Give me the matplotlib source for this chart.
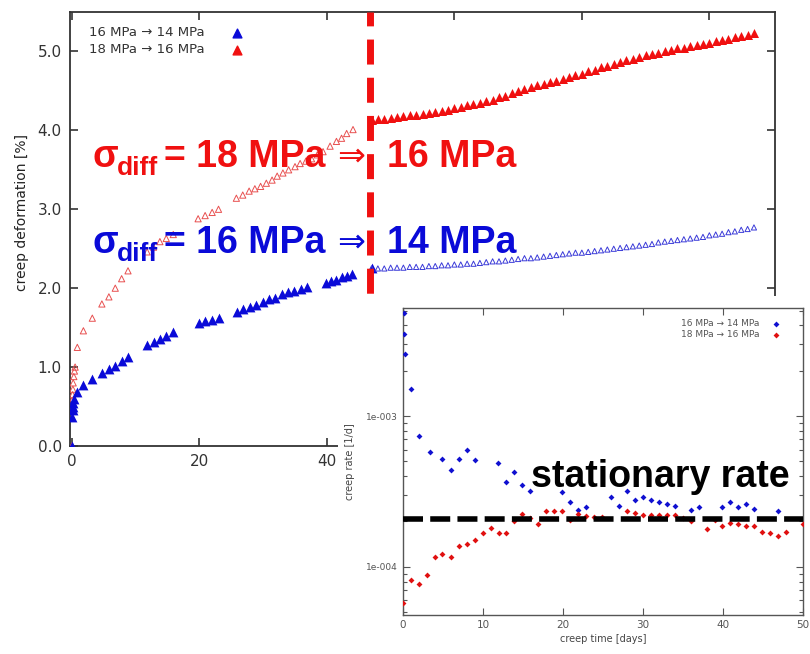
import math
import matplotlib
matplotlib.use("Agg")
import matplotlib.pyplot as plt
from matplotlib.patches import Rectangle
from matplotlib.ticker import FuncFormatter, LogLocator, NullFormatter

# ---- main plot: creep deformation [%] vs time [days] ----
# 16 -> 14 MPa, before load change (filled)
blue1_t = [0, 0.05, 0.1, 0.15, 0.2, 0.3, 0.85, 1.8, 3.2, 4.7, 5.8, 6.8, 7.8, 8.8,
           11.8, 12.8, 13.8, 14.8, 15.9, 19.9, 20.9, 22.0, 23.0,
           25.9, 26.9, 27.9, 28.9, 29.9, 30.9, 31.9, 32.9, 33.9, 34.9, 35.9, 36.9,
           39.9, 40.7, 41.5, 42.3, 43.1, 44.0, 47.0]
blue1_e = [0.0, 0.37, 0.45, 0.50, 0.55, 0.60, 0.69, 0.77, 0.85, 0.93, 0.97, 1.02, 1.08, 1.13,
           1.28, 1.32, 1.35, 1.40, 1.44, 1.56, 1.58, 1.60, 1.62,
           1.70, 1.73, 1.76, 1.79, 1.82, 1.86, 1.88, 1.92, 1.95, 1.97, 1.99, 2.01,
           2.06, 2.09, 2.11, 2.14, 2.15, 2.18, 2.25]

# 18 -> 16 MPa, before load change (open)
red1_t = [0, 0.05, 0.1, 0.15, 0.2, 0.3, 0.4, 0.5, 0.85, 1.8, 3.2, 4.7, 5.8, 6.8, 7.8, 8.8,
          11.8, 12.8, 13.8, 14.8, 15.9, 19.8, 20.9, 22.0, 23.0,
          25.8, 26.8, 27.8, 28.7, 29.6, 30.5, 31.4, 32.2, 33.1, 34.0, 35.0, 35.8, 36.7,
          37.6, 38.5, 39.4, 40.5, 41.5, 42.3, 43.1, 44.1]
red1_e = [0.0, 0.58, 0.65, 0.72, 0.80, 0.88, 0.95, 1.00, 1.25, 1.46, 1.62, 1.80, 1.89, 2.00, 2.12, 2.22,
          2.46, 2.52, 2.59, 2.63, 2.68, 2.88, 2.92, 2.96, 3.00,
          3.14, 3.18, 3.23, 3.26, 3.29, 3.33, 3.37, 3.42, 3.46, 3.50, 3.54, 3.58, 3.61,
          3.64, 3.69, 3.73, 3.80, 3.86, 3.90, 3.96, 4.01]

# after load change (days 47..107)
t2 = [47, 48, 49, 50, 51, 52, 53, 54, 55, 56, 57, 58, 59, 60, 61, 62, 63, 64, 65, 66,
      67, 68, 69, 70, 71, 72, 73, 74, 75, 76, 77, 78, 79, 80, 81, 82, 83, 84, 85, 86,
      87, 88, 89, 90, 91, 92, 93, 94, 95, 96, 97, 98, 99, 100, 101, 102, 103, 104, 105, 106, 107]
red2_e = [4.13, 4.14, 4.15, 4.16, 4.17, 4.18, 4.19, 4.20, 4.21, 4.22, 4.23, 4.25, 4.26, 4.28, 4.30,
          4.32, 4.34, 4.35, 4.37, 4.39, 4.42, 4.44, 4.47, 4.50, 4.52, 4.55, 4.57, 4.59, 4.61, 4.63,
          4.65, 4.68, 4.70, 4.72, 4.75, 4.77, 4.80, 4.82, 4.84, 4.87, 4.89, 4.91, 4.93, 4.95, 4.97,
          4.98, 5.00, 5.02, 5.04, 5.05, 5.07, 5.08, 5.10, 5.11, 5.13, 5.14, 5.16, 5.18, 5.20, 5.21, 5.23]
blue2_e = [2.25, 2.25, 2.25, 2.26, 2.26, 2.26, 2.27, 2.27, 2.27, 2.28, 2.28, 2.29, 2.29, 2.30, 2.30,
           2.31, 2.31, 2.32, 2.33, 2.34, 2.34, 2.35, 2.36, 2.37, 2.38, 2.38, 2.39, 2.40, 2.41, 2.42,
           2.43, 2.44, 2.45, 2.45, 2.46, 2.47, 2.48, 2.49, 2.50, 2.51, 2.52, 2.53, 2.54, 2.55, 2.56,
           2.58, 2.59, 2.60, 2.61, 2.62, 2.63, 2.64, 2.65, 2.67, 2.68, 2.69, 2.71, 2.72, 2.74, 2.75, 2.77]

switch_day = 46.8

# ---- inset: creep rate [1/d] after load change ----
rate_blue_t = [0.1, 0.1, 0.25, 1.0, 2.0, 3.4, 4.9, 6.0, 7.0, 8.0, 9.0, 11.9, 12.9, 13.9, 14.9, 15.9,
               19.9, 20.9, 21.9, 22.9, 26.0, 27.0, 28.0, 29.0, 30.0, 31.0, 32.0, 33.0, 34.0,
               36.0, 37.0, 39.9, 40.9, 41.9, 42.9, 43.9, 46.9]
rate_blue = [4.8e-3, 3.5e-3, 2.57e-3, 1.5e-3, 7.4e-4, 5.8e-4, 5.2e-4, 4.37e-4, 5.18e-4, 6.0e-4,
             5.1e-4, 4.9e-4, 3.66e-4, 4.25e-4, 3.5e-4, 3.2e-4, 3.16e-4, 2.69e-4, 2.39e-4, 2.48e-4,
             2.89e-4, 2.55e-4, 3.18e-4, 2.76e-4, 2.89e-4, 2.79e-4, 2.69e-4, 2.62e-4, 2.54e-4,
             2.39e-4, 2.48e-4, 2.5e-4, 2.69e-4, 2.5e-4, 2.61e-4, 2.43e-4, 2.33e-4]
rate_red_t = [0, 1, 2, 3, 4, 4.9, 6, 7, 8, 9, 10, 11, 12, 12.9, 13.9, 14.9, 15.9, 16.9, 17.9, 18.9,
              19.9, 20.9, 21.9, 22.9, 23.9, 24.9, 28, 29, 30, 31, 32, 33, 34, 35, 36, 38, 39,
              39.9, 40.9, 41.9, 42.9, 43.9, 44.9, 45.9, 46.9, 47.9, 50]
rate_red = [5.8e-5, 8.2e-5, 7.7e-5, 8.9e-5, 1.17e-4, 1.22e-4, 1.17e-4, 1.38e-4, 1.42e-4, 1.5e-4,
            1.68e-4, 1.8e-4, 1.68e-4, 1.68e-4, 2.03e-4, 2.25e-4, 2.1e-4, 1.93e-4, 2.34e-4, 2.34e-4,
            2.35e-4, 2.05e-4, 2.24e-4, 2.16e-4, 2.13e-4, 2.13e-4, 2.34e-4, 2.27e-4, 2.2e-4, 2.2e-4,
            2.22e-4, 2.22e-4, 2.22e-4, 2.1e-4, 2.01e-4, 1.78e-4, 2.05e-4, 1.86e-4, 1.95e-4, 1.92e-4,
            1.86e-4, 1.86e-4, 1.7e-4, 1.68e-4, 1.61e-4, 1.7e-4, 1.92e-4]
stationary_rate = 2.08e-4

label_blue = "16 MPa \u2192 14 MPa"
label_red = "18 MPa \u2192 16 MPa"

BLUE = "#0a0ad8"
RED = "#f01010"
W, H = 810, 654

fig = plt.figure(figsize=(8.1, 6.54), dpi=100)

def fpos(x, y):
    # pixel position -> figure fraction
    return x / W, 1 - y / H

# main axes
ax = fig.add_axes([70 / W, 1 - 446 / H, 705 / W, 434 / H])
ax.set_zorder(0)
ax.scatter(red1_t, red1_e, marker="^", s=20, facecolors="none", edgecolors="#e85050",
           linewidths=0.7, zorder=3)
ax.scatter(blue1_t, blue1_e, marker="^", s=50, color=BLUE, linewidths=0, zorder=3)
ax.scatter(t2, blue2_e, marker="^", s=14, facecolors="none", edgecolors="#3a3ad8",
           linewidths=0.7, zorder=3)
ax.scatter(t2, red2_e, marker="^", s=42, color=RED, linewidths=0, zorder=3)
ax.axvline(switch_day, color=RED, lw=5, dashes=(3.6, 1.9), zorder=4)

# legend handles (gnuplot style: text first, marker after)
ax.scatter([], [], marker="^", s=40, color=BLUE, label=label_blue)
ax.scatter([], [], marker="^", s=40, color=RED, label=label_red)
leg = ax.legend(loc="upper left", bbox_to_anchor=(0.01, 0.995), frameon=False,
                markerfirst=False, fontsize=9.5, handletextpad=0.8, handlelength=3.3,
                labelspacing=0.3, scatterpoints=1)
for txt in leg.get_texts():
    txt.set_color("#333333")

ax.set_xlim(-0.3, 110.3)
ax.set_ylim(0, 5.5)
ax.set_xticks([0, 20, 40, 60, 80, 100])
# labels beyond 40 sit under the inset panel
ax.xaxis.set_major_formatter(FuncFormatter(lambda v, p: f"{v:.0f}" if v <= 40 else ""))
ax.set_yticks([0, 1, 2, 3, 4, 5])
ax.yaxis.set_major_formatter(FuncFormatter(lambda v, p: f"{v:.1f}"))
ax.tick_params(direction="in", length=6, width=1.2, top=True, right=True,
               labelsize=11, colors="#333333", pad=6)
for sp in ax.spines.values():
    sp.set_color("#333333")
    sp.set_linewidth(1.3)
ax.set_ylabel("creep deformation [%]", fontsize=10, color="#222222")
ax.yaxis.set_label_coords(-0.058, 0.537)

# big annotations
BOLD = ["Liberation Sans", "DejaVu Sans"]
for color, base, l, r in [(RED, 167, "= 18 MPa", "16 MPa"), (BLUE, 253, "= 16 MPa", "14 MPa")]:
    fig.text(*fpos(92, base), "\u03c3", fontsize=27, color=color, family=BOLD,
             fontweight="bold", va="baseline", zorder=5)
    fig.text(*fpos(117, base + 8), "diff", fontsize=19, color=color, family=BOLD,
             fontweight="bold", va="baseline", zorder=5)
    fig.text(*fpos(164, base), l, fontsize=27, color=color, family=BOLD,
             fontweight="bold", va="baseline", zorder=5)
    fig.text(*fpos(337, base - 1), "\u21d2", fontsize=24, color=color, family="DejaVu Sans",
             va="baseline", zorder=5)
    fig.text(*fpos(387, base), r, fontsize=27, color=color, family=BOLD,
             fontweight="bold", va="baseline", zorder=5)

# white panel behind the inset
fig.add_artist(Rectangle((338 / W, 0), 1 - 338 / W, 1 - 296 / H, transform=fig.transFigure,
                         facecolor="white", edgecolor="none", zorder=0.5))

# inset axes
axi = fig.add_axes([403 / W, 1 - 615 / H, 400 / W, 307 / H])
axi.set_zorder(1)
axi.scatter(rate_blue_t, rate_blue, marker="D", s=9, color="#1010d0", linewidths=0, zorder=3,
            label=label_blue)
axi.scatter(rate_red_t, rate_red, marker="D", s=9, color="#e01010", linewidths=0, zorder=3,
            label=label_red)
axi.axhline(stationary_rate, color="black", lw=4, dashes=(3.6, 1.3), zorder=4)
axi.set_yscale("log")
axi.set_xlim(0, 50)
axi.set_ylim(4.8e-5, 5.2e-3)
axi.set_xticks([0, 10, 20, 30, 40, 50])
axi.yaxis.set_major_locator(LogLocator(base=10, numticks=10))
axi.yaxis.set_minor_locator(LogLocator(base=10, subs=range(2, 10), numticks=20))
axi.yaxis.set_minor_formatter(NullFormatter())
axi.yaxis.set_major_formatter(FuncFormatter(lambda v, p: f"1e-{-round(math.log10(v)):03d}"))
axi.tick_params(which="both", direction="in", top=True, right=True, colors="#555555",
                labelsize=7.5, width=0.8)
axi.tick_params(which="major", length=5)
axi.tick_params(which="minor", length=3)
axi.tick_params(axis="y", labelsize=6.5)
for sp in axi.spines.values():
    sp.set_color("#555555")
    sp.set_linewidth(1.0)
axi.set_xlabel("creep time [days]", fontsize=7, color="#444444", labelpad=3)
axi.set_ylabel("creep rate [1/d]", fontsize=7, color="#444444", labelpad=8)
lg = axi.legend(loc="upper right", bbox_to_anchor=(0.975, 0.99), frameon=False, markerfirst=False,
                fontsize=6.5, handletextpad=0.8, handlelength=2.0, labelspacing=0.2,
                scatterpoints=1)
for txt in lg.get_texts():
    txt.set_color("#555555")

fig.text(*fpos(531, 487), "stationary rate", fontsize=27, fontweight="bold", family=BOLD,
         color="black", va="baseline", zorder=6)

fig.savefig("out.png", dpi=100)
